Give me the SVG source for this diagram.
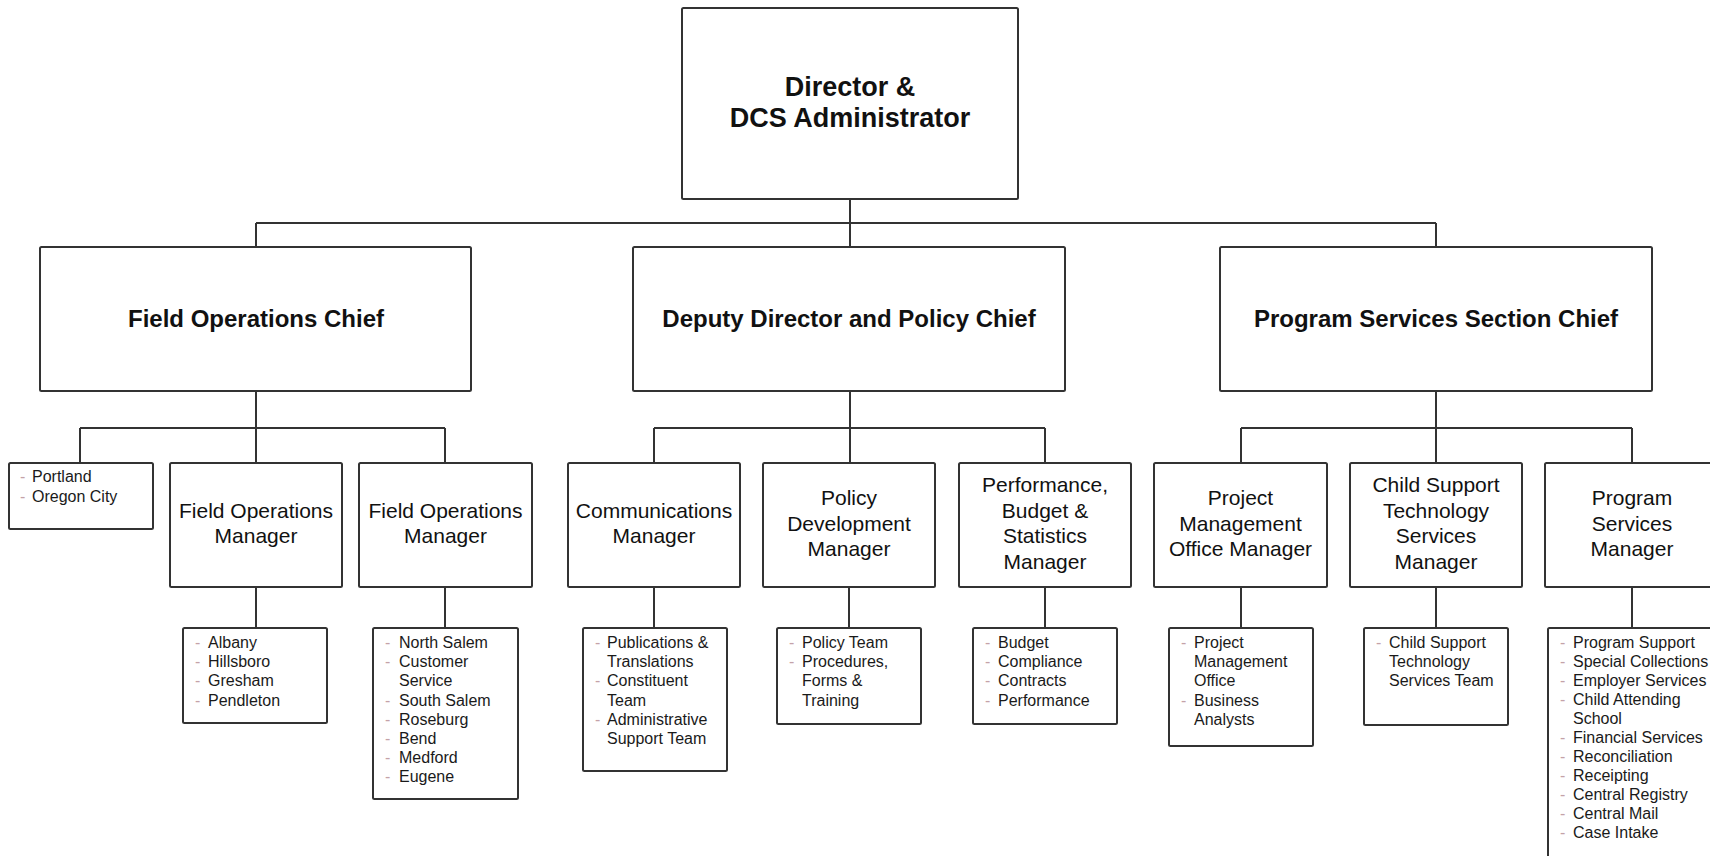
<svg xmlns="http://www.w3.org/2000/svg" width="1710" height="856" viewBox="0 0 1710 856">
<style>
.bx{fill:#fff;stroke:#333;stroke-width:2}
.ln{fill:none;stroke:#333;stroke-width:2}
.t0{font-family:"Liberation Sans",Arial,sans-serif;font-weight:bold;font-size:27px;fill:#111;text-anchor:middle}
.t1{font-family:"Liberation Sans",Arial,sans-serif;font-weight:bold;font-size:24px;fill:#111;text-anchor:middle}
.t3{font-family:"Liberation Sans",Arial,sans-serif;font-size:21px;fill:#111;text-anchor:middle}
.li{font-family:"Liberation Sans",Arial,sans-serif;font-size:16px;fill:#1a1a1a}
.bu{font-family:"Liberation Sans",Arial,sans-serif;font-size:16px;fill:#c4a2a8}
</style>
<rect width="1710" height="856" fill="#fff"/>
<g id="connectors">
<path class="ln" d="M850 199V247M256 223H1436M256 223V247M1436 223V247"/>
<path class="ln" d="M256 391V463M80 428H445M80 428V463M445 428V463"/>
<path class="ln" d="M850 391V463M654 428H1045M654 428V463M1045 428V463"/>
<path class="ln" d="M1436 391V463M1241 428H1632M1241 428V463M1632 428V463"/>
<path class="ln" d="M256 587V628M445 587V628M654 587V628M849 587V628M1045 587V628M1241 587V628M1436 587V628M1632 587V628"/>
</g>
<g id="director">
<rect class="bx" x="682" y="8" width="336" height="191" rx="1.5"/>
<text class="t0" x="850" y="96">Director &amp;</text>
<text class="t0" x="850" y="127">DCS Administrator</text>
</g>
<g id="field-ops-chief">
<rect class="bx" x="40" y="247" width="431" height="144" rx="1.5"/>
<text class="t1" x="256" y="327">Field Operations Chief</text>
</g>
<g id="deputy-director">
<rect class="bx" x="633" y="247" width="432" height="144" rx="1.5"/>
<text class="t1" x="849" y="327">Deputy Director and Policy Chief</text>
</g>
<g id="program-services-chief">
<rect class="bx" x="1220" y="247" width="432" height="144" rx="1.5"/>
<text class="t1" x="1436" y="327">Program Services Section Chief</text>
</g>
<g id="portland">
<rect class="bx" x="9" y="463" width="144" height="66" rx="1.5"/>
<text class="bu" x="20" y="482">-</text><text class="li" x="32" y="482">Portland</text>
<text class="bu" x="20" y="502">-</text><text class="li" x="32" y="502">Oregon City</text>
</g>
<g id="field-ops-manager-1">
<rect class="bx" x="170" y="463" width="172" height="124" rx="1.5"/>
<text class="t3" x="256" y="517.8">Field Operations<tspan x="256" dy="25.4">Manager</tspan></text>
</g>
<g id="field-ops-manager-2">
<rect class="bx" x="359" y="463" width="173" height="124" rx="1.5"/>
<text class="t3" x="445.5" y="517.8">Field Operations<tspan x="445.5" dy="25.4">Manager</tspan></text>
</g>
<g id="communications-manager">
<rect class="bx" x="568" y="463" width="172" height="124" rx="1.5"/>
<text class="t3" x="654" y="517.8">Communications<tspan x="654" dy="25.4">Manager</tspan></text>
</g>
<g id="policy-development-manager">
<rect class="bx" x="763" y="463" width="172" height="124" rx="1.5"/>
<text class="t3" x="849" y="505.1">Policy<tspan x="849" dy="25.4">Development</tspan><tspan x="849" dy="25.4">Manager</tspan></text>
</g>
<g id="performance-manager">
<rect class="bx" x="959" y="463" width="172" height="124" rx="1.5"/>
<text class="t3" x="1045" y="492.4">Performance,<tspan x="1045" dy="25.4">Budget &amp;</tspan><tspan x="1045" dy="25.4">Statistics</tspan><tspan x="1045" dy="25.4">Manager</tspan></text>
</g>
<g id="pmo-manager">
<rect class="bx" x="1154" y="463" width="173" height="124" rx="1.5"/>
<text class="t3" x="1240.5" y="505.1">Project<tspan x="1240.5" dy="25.4">Management</tspan><tspan x="1240.5" dy="25.4">Office Manager</tspan></text>
</g>
<g id="csts-manager">
<rect class="bx" x="1350" y="463" width="172" height="124" rx="1.5"/>
<text class="t3" x="1436" y="492.4">Child Support<tspan x="1436" dy="25.4">Technology</tspan><tspan x="1436" dy="25.4">Services</tspan><tspan x="1436" dy="25.4">Manager</tspan></text>
</g>
<g id="program-services-manager">
<rect class="bx" x="1545" y="463" width="174" height="124" rx="1.5"/>
<text class="t3" x="1632" y="505.1">Program<tspan x="1632" dy="25.4">Services</tspan><tspan x="1632" dy="25.4">Manager</tspan></text>
</g>
<g id="albany-list">
<rect class="bx" x="183" y="628" width="144" height="95" rx="1.5"/>
<text class="bu" x="195" y="648">-</text><text class="li" x="208" y="648">Albany</text>
<text class="bu" x="195" y="667.2">-</text><text class="li" x="208" y="667.2">Hillsboro</text>
<text class="bu" x="195" y="686.4">-</text><text class="li" x="208" y="686.4">Gresham</text>
<text class="bu" x="195" y="705.6">-</text><text class="li" x="208" y="705.6">Pendleton</text>
</g>
<g id="north-salem-list">
<rect class="bx" x="373" y="628" width="145" height="171" rx="1.5"/>
<text class="bu" x="385" y="648">-</text><text class="li" x="399" y="648">North Salem</text>
<text class="bu" x="385" y="667.2">-</text><text class="li" x="399" y="667.2">Customer</text>
<text class="li" x="399" y="686.4">Service</text>
<text class="bu" x="385" y="705.6">-</text><text class="li" x="399" y="705.6">South Salem</text>
<text class="bu" x="385" y="724.8">-</text><text class="li" x="399" y="724.8">Roseburg</text>
<text class="bu" x="385" y="744">-</text><text class="li" x="399" y="744">Bend</text>
<text class="bu" x="385" y="763.2">-</text><text class="li" x="399" y="763.2">Medford</text>
<text class="bu" x="385" y="782.4">-</text><text class="li" x="399" y="782.4">Eugene</text>
</g>
<g id="communications-list">
<rect class="bx" x="583" y="628" width="144" height="143" rx="1.5"/>
<text class="bu" x="595" y="648">-</text><text class="li" x="607" y="648">Publications &amp;</text>
<text class="li" x="607" y="667.2">Translations</text>
<text class="bu" x="595" y="686.4">-</text><text class="li" x="607" y="686.4">Constituent</text>
<text class="li" x="607" y="705.6">Team</text>
<text class="bu" x="595" y="724.8">-</text><text class="li" x="607" y="724.8">Administrative</text>
<text class="li" x="607" y="744">Support Team</text>
</g>
<g id="policy-list">
<rect class="bx" x="777" y="628" width="144" height="96" rx="1.5"/>
<text class="bu" x="789" y="648">-</text><text class="li" x="802" y="648">Policy Team</text>
<text class="bu" x="789" y="667.2">-</text><text class="li" x="802" y="667.2">Procedures,</text>
<text class="li" x="802" y="686.4">Forms &amp;</text>
<text class="li" x="802" y="705.6">Training</text>
</g>
<g id="budget-list">
<rect class="bx" x="973" y="628" width="144" height="96" rx="1.5"/>
<text class="bu" x="985" y="648">-</text><text class="li" x="998" y="648">Budget</text>
<text class="bu" x="985" y="667.2">-</text><text class="li" x="998" y="667.2">Compliance</text>
<text class="bu" x="985" y="686.4">-</text><text class="li" x="998" y="686.4">Contracts</text>
<text class="bu" x="985" y="705.6">-</text><text class="li" x="998" y="705.6">Performance</text>
</g>
<g id="pmo-list">
<rect class="bx" x="1169" y="628" width="144" height="118" rx="1.5"/>
<text class="bu" x="1181" y="648">-</text><text class="li" x="1194" y="648">Project</text>
<text class="li" x="1194" y="667.2">Management</text>
<text class="li" x="1194" y="686.4">Office</text>
<text class="bu" x="1181" y="705.6">-</text><text class="li" x="1194" y="705.6">Business</text>
<text class="li" x="1194" y="724.8">Analysts</text>
</g>
<g id="csts-list">
<rect class="bx" x="1364" y="628" width="144" height="97" rx="1.5"/>
<text class="bu" x="1376" y="648">-</text><text class="li" x="1389" y="648">Child Support</text>
<text class="li" x="1389" y="667.2">Technology</text>
<text class="li" x="1389" y="686.4">Services Team</text>
</g>
<g id="program-services-list">
<rect class="bx" x="1548" y="628" width="180" height="250" rx="1.5"/>
<text class="bu" x="1560" y="648">-</text><text class="li" x="1573" y="648">Program Support</text>
<text class="bu" x="1560" y="667">-</text><text class="li" x="1573" y="667">Special Collections</text>
<text class="bu" x="1560" y="686">-</text><text class="li" x="1573" y="686">Employer Services</text>
<text class="bu" x="1560" y="705">-</text><text class="li" x="1573" y="705">Child Attending</text>
<text class="li" x="1573" y="724">School</text>
<text class="bu" x="1560" y="743">-</text><text class="li" x="1573" y="743">Financial Services</text>
<text class="bu" x="1560" y="762">-</text><text class="li" x="1573" y="762">Reconciliation</text>
<text class="bu" x="1560" y="781">-</text><text class="li" x="1573" y="781">Receipting</text>
<text class="bu" x="1560" y="800">-</text><text class="li" x="1573" y="800">Central Registry</text>
<text class="bu" x="1560" y="819">-</text><text class="li" x="1573" y="819">Central Mail</text>
<text class="bu" x="1560" y="838">-</text><text class="li" x="1573" y="838">Case Intake</text>
</g>
</svg>
